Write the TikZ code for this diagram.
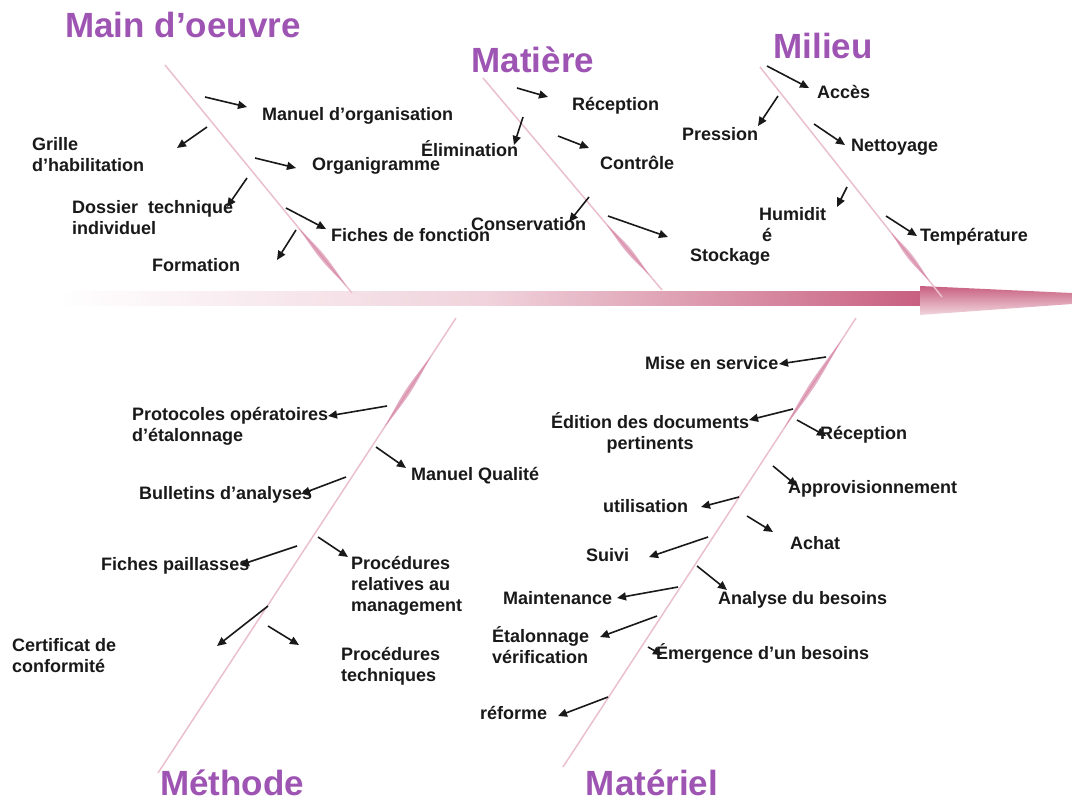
\documentclass[tikz,border=0pt]{standalone}
\usepackage{fontspec}
\setmainfont{Liberation Sans}
\usetikzlibrary{arrows.meta,calc}
\definecolor{titlec}{RGB}{158,84,178}
\definecolor{rose}{RGB}{200,95,128}
\definecolor{bonec}{RGB}{234,192,207}
\definecolor{spinc}{RGB}{210,120,155}
\newcommand\fbarr[3]{\coordinate (#1s) at (#2); \coordinate (#1e) at (#3); \draw[arr] (#1s) -- (#1e);}
\newcommand\fbbone[5]{%
  \coordinate (#1a) at (#2); \coordinate (#1b) at (#3);
  \draw[bone] (#1a) -- (#1b);
  \coordinate (#1p) at ($(#1a)!#4!(#1b)$);
  \coordinate (#1q) at ($(#1a)!#5!(#1b)$);
  \coordinate (#1m) at ($(#1p)!0.5!(#1q)$);
  \coordinate (#1l) at ($(#1m)!3.5pt!90:(#1q)$);
  \coordinate (#1r) at ($(#1m)!3.5pt!270:(#1q)$);
  \fill[spin] (#1p) .. controls (#1l) .. (#1q) .. controls (#1r) .. (#1p) -- cycle;}
\begin{document}
\begin{tikzpicture}[x=1pt,y=-1pt,
  lab/.style={anchor=base west, inner sep=0pt, font=\bfseries\fontsize{18}{21}\selectfont, align=left, text=black!90},
  ttl/.style={anchor=base, inner sep=0pt, font=\bfseries\fontsize{35}{40}\selectfont, text=titlec},
  arr/.style={line width=1.6pt, black!90, -{Triangle[length=9pt,width=8pt]}},
  bone/.style={line width=1.5pt, bonec},
  spin/.style={fill=spinc, opacity=0.6}]
\useasboundingbox (0,0) rectangle (1072,803);
\fill[white] (0,0) rectangle (1072,803);

% spine
\coordinate (sp1) at (58,291); \coordinate (sp2) at (922,305);
\shade[left color=white, right color=rose, middle color=rose!28] (sp1) rectangle (sp2);
\coordinate (hd1) at (920,286); \coordinate (hd2) at (1072,293);
\coordinate (hd3) at (1072,304); \coordinate (hd4) at (920,315);
\shade[top color=rose, bottom color=rose!25] (hd1) -- (hd2) -- (hd3) -- (hd4) -- cycle;

% bones
\fbbone{bA}{165,65}{352,293}{0.715}{0.97}
\fbbone{bB}{483,78}{662,290}{0.69}{0.93}
\fbbone{bC}{760,67}{942,297}{0.72}{0.93}
\fbbone{bD}{456,318}{158,773}{0.084}{0.24}
\fbbone{bE}{856,318}{563,767}{0.05}{0.245}

% titles
\node[ttl] (tA) at (183,37) {Main d’oeuvre};
\node[ttl] (tB) at (533,72) {Matière};
\node[ttl] (tC) at (823,58) {Milieu};
\node[ttl] (tD) at (232,795) {Méthode};
\node[ttl] (tE) at (652,795) {Matériel};

% Main d'oeuvre
\node[lab] (mo1) at (262,120) {Manuel d’organisation};
\node[lab] (mo2) at (32,171) {Grille\\d’habilitation};
\node[lab] (mo3) at (312,170) {Organigramme};
\node[lab] (mo4) at (72,234) {Dossier\hspace{0.55em}technique\\individuel};
\node[lab] (mo5) at (331,241) {Fiches de fonction};
\node[lab] (mo6) at (152,271) {Formation};
\fbarr{a1}{205,97}{247,107}
\fbarr{a2}{207,127}{177,148}
\fbarr{a3}{255,158}{296,168}
\fbarr{a4}{247,178}{227,207}
\fbarr{a5}{286,208}{326,229}
\fbarr{a6}{296,230}{277,260}

% Matiere
\node[lab] (ma1) at (572,110) {Réception};
\node[lab] (ma2) at (421,156) {Élimination};
\node[lab] (ma3) at (600,169) {Contrôle};
\node[lab] (ma4) at (471,230) {Conservation};
\node[lab] (ma5) at (690,261) {Stockage};
\fbarr{b1}{517,88}{548,97}
\fbarr{b2}{523,117}{514,145}
\fbarr{b3}{558,136}{589,148}
\fbarr{b4}{589,197}{569,222}
\fbarr{b5}{608,216}{668,237}

% Milieu
\node[lab] (mi1) at (817,98) {Accès};
\node[lab] (mi2) at (682,140) {Pression};
\node[lab] (mi3) at (851,151) {Nettoyage};
\node[lab] (mi4) at (759,241) {Humidit\\\hspace*{3pt}é};
\node[lab] (mi5) at (920,241) {Température};
\fbarr{c1}{767,66}{809,88}
\fbarr{c2}{778,96}{758,126}
\fbarr{c3}{814,124}{845,145}
\fbarr{c4}{847,187}{837,207}
\fbarr{c5}{886,216}{917,236}

% Methode
\node[lab] (me1) at (132,441) {Protocoles opératoires\\d’étalonnage};
\node[lab] (me2) at (411,480) {Manuel Qualité};
\node[lab] (me3) at (139,499) {Bulletins d’analyses};
\node[lab] (me4) at (351,611) {Procédures\\relatives au\\management};
\node[lab] (me5) at (101,570) {Fiches paillasses};
\node[lab] (me6) at (12,672) {Certificat de\\conformité};
\node[lab] (me7) at (341,681) {Procédures\\techniques};
\fbarr{d1}{387,406}{328,416}
\fbarr{d2}{376,447}{406,468}
\fbarr{d3}{346,477}{301,494}
\fbarr{d4}{318,537}{348,557}
\fbarr{d5}{297,546}{240,565}
\fbarr{d6}{268,606}{217,646}
\fbarr{d7}{268,626}{299,645}

% Materiel
\node[lab] (mt1) at (645,369) {Mise en service};
\node[lab, align=center] (mt2) at (551,449) {Édition des documents\\pertinents};
\node[lab] (mt3) at (820,439) {Réception};
\node[lab] (mt4) at (788,493) {Approvisionnement};
\node[lab] (mt5) at (603,512) {utilisation};
\node[lab] (mt6) at (790,549) {Achat};
\node[lab] (mt7) at (586,561) {Suivi};
\node[lab] (mt8) at (718,604) {Analyse du besoins};
\node[lab] (mt9) at (503,604) {Maintenance};
\node[lab] (mt10) at (492,663) {Étalonnage\\vérification};
\node[lab] (mt11) at (656,659) {Émergence d’un besoins};
\node[lab] (mt12) at (480,719) {réforme};
\fbarr{e1}{826,357}{779,364}
\fbarr{e2}{793,409}{749,420}
\fbarr{e3}{797,420}{826,436}
\fbarr{e4}{773,466}{797,486}
\fbarr{e5}{739,497}{701,507}
\fbarr{e6}{747,516}{773,532}
\fbarr{e7}{708,537}{649,557}
\fbarr{e8}{697,566}{727,590}
\fbarr{e9}{678,587}{617,598}
\fbarr{e10}{657,616}{600,637}
\fbarr{e11}{648,647}{662,655}
\fbarr{e12}{608,697}{558,716}
\end{tikzpicture}
\end{document}
